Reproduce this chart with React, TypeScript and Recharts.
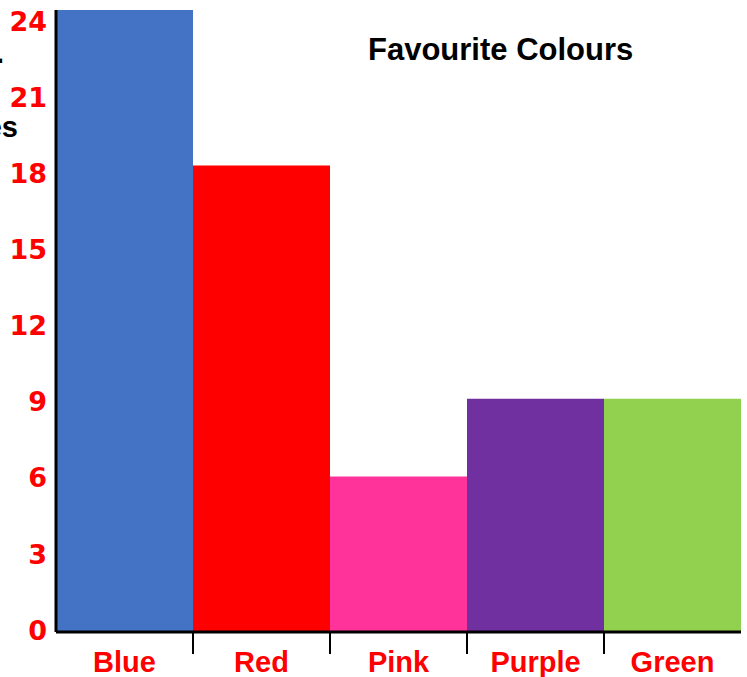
import React from "react";
import { BarChart, Bar, XAxis, YAxis, Cell } from "recharts";

const colours = ["Blue", "Red", "Pink", "Purple", "Green"];
const votes = [24, 18, 6, 9, 9];
const barColours = ["#4472C4", "#FF0000", "#FF3399", "#7030A0", "#92D050"];
const yTicks = [0, 3, 6, 9, 12, 15, 18, 21, 24];

const data = colours.map((name, i) => ({ name, value: votes[i] }));

const FONT = "'Liberation Sans', Arial, sans-serif";
const NUM_FONT = "'DejaVu Sans', sans-serif";
const W = 747;
const H = 677;
const PLOT_TOP = 10;
const PLOT_BOTTOM = 632;
const PLOT_LEFT = 56;
const PLOT_RIGHT = 6;
const band = (W - PLOT_LEFT - PLOT_RIGHT) / colours.length;

const CategoryTick = (props: any) => {
  const { x, y, payload, index } = props;
  return (
    <g>
      {index > 0 ? (
        <line
          x1={x - band / 2}
          x2={x - band / 2}
          y1={y - 8}
          y2={y + 14}
          stroke="#000"
          strokeWidth={2}
        />
      ) : null}
      <text
        x={x}
        y={y + 32}
        textAnchor="middle"
        fill="#FF0000"
        fontFamily={FONT}
        fontWeight="bold"
        fontSize={29}
      >
        {payload.value}
      </text>
    </g>
  );
};

// labels in the original sit slightly lower the higher they go
const ValueTick = (props: any) => {
  const { x, y, payload } = props;
  const shift = -2 + (13 * (PLOT_BOTTOM - y)) / (PLOT_BOTTOM - PLOT_TOP);
  return (
    <text
      x={x}
      y={y + shift}
      dy="0.36em"
      textAnchor="end"
      fill="#FF0000"
      fontFamily={NUM_FONT}
      fontWeight="bold"
      fontSize={27}
    >
      {payload.value}
    </text>
  );
};

const sideLabel: React.CSSProperties = {
  position: "absolute",
  fontFamily: FONT,
  fontWeight: "bold",
  fontSize: 29,
  color: "#000",
  whiteSpace: "nowrap",
  lineHeight: 1,
};

const App: React.FC = () => {
  return (
    <div
      style={{
        position: "absolute",
        top: 0,
        left: 0,
        width: W,
        height: H,
        background: "#fff",
        overflow: "hidden",
      }}
    >
      <BarChart
        width={W}
        height={H}
        data={data}
        margin={{ top: PLOT_TOP, right: PLOT_RIGHT, bottom: 0, left: 0 }}
        barCategoryGap={0}
      >
        <XAxis
          dataKey="name"
          height={H - PLOT_BOTTOM}
          axisLine={{ stroke: "#000", strokeWidth: 3 }}
          tickLine={false}
          tick={<CategoryTick />}
          interval={0}
        />
        <YAxis
          width={PLOT_LEFT}
          domain={[0, 24]}
          ticks={yTicks}
          interval={0}
          axisLine={{ stroke: "#000", strokeWidth: 3 }}
          tickLine={false}
          tick={<ValueTick />}
          tickMargin={3}
        />
        <Bar dataKey="value" isAnimationActive={false}>
          {data.map((d, i) => (
            <Cell key={d.name} fill={barColours[i]} />
          ))}
        </Bar>
      </BarChart>
      <div
        style={{
          position: "absolute",
          top: 34,
          left: 368,
          fontFamily: FONT,
          fontWeight: "bold",
          fontSize: 31,
          lineHeight: 1,
          color: "#000",
          whiteSpace: "nowrap",
        }}
      >
        Favourite Colours
      </div>
      <div style={{ ...sideLabel, top: 39, right: W - 4 }}>No.</div>
      <div style={{ ...sideLabel, top: 113, right: W - 18 }}>votes</div>
    </div>
  );
};

export default App;
